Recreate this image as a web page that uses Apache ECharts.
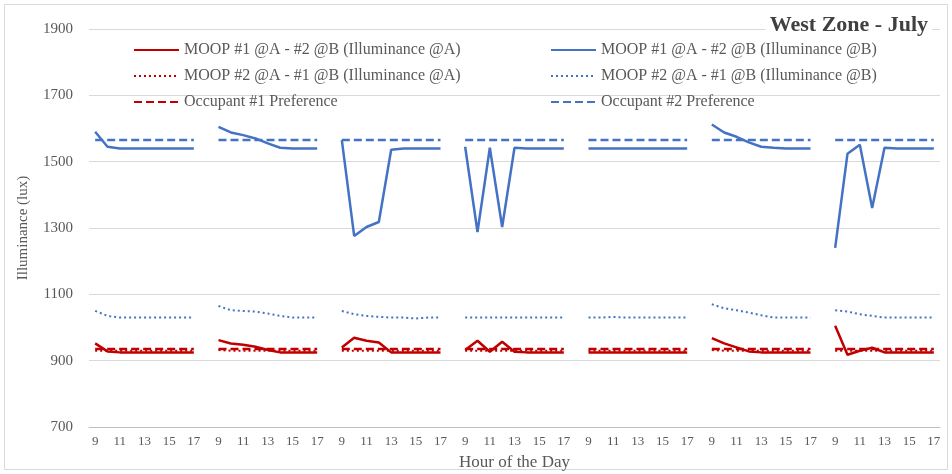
<!DOCTYPE html>
<html>
<head>
<meta charset="utf-8">
<script src="https://cdn.jsdelivr.net/npm/echarts@6/dist/echarts.min.js"></script>
<style>
  html, body { margin: 0; padding: 0; background: #fff; }
  #chart { width: 952px; height: 474px; }
</style>
</head>
<body>
<div id="chart"></div>
<script>
// hours of each day, 7 days shown side by side
const hours = [9, 10, 11, 12, 13, 14, 15, 16, 17];

// MOOP #1 @A - #2 @B, illuminance at A (red solid)
const moop1A = [
  [952, 928, 925, 925, 925, 925, 925, 925, 925],
  [962, 952, 948, 942, 932, 925, 925, 925, 925],
  [940, 969, 960, 955, 925, 925, 925, 925, 925],
  [932, 960, 927, 957, 927, 925, 925, 925, 925],
  [925, 925, 925, 925, 925, 925, 925, 925, 925],
  [968, 952, 940, 928, 925, 925, 925, 925, 925],
  [1005, 918, 930, 939, 925, 925, 925, 925, 925]
];
// MOOP #1 @A - #2 @B, illuminance at B (blue solid)
const moop1B = [
  [1590, 1545, 1540, 1540, 1540, 1540, 1540, 1540, 1540],
  [1605, 1588, 1580, 1570, 1555, 1542, 1540, 1540, 1540],
  [1565, 1276, 1303, 1318, 1536, 1540, 1540, 1540, 1540],
  [1545, 1288, 1542, 1303, 1542, 1540, 1540, 1540, 1540],
  [1540, 1540, 1540, 1540, 1540, 1540, 1540, 1540, 1540],
  [1612, 1588, 1575, 1558, 1545, 1542, 1540, 1540, 1540],
  [1240, 1524, 1551, 1360, 1542, 1540, 1540, 1540, 1540]
];
// MOOP #2 @A - #1 @B, illuminance at A (red dotted, mostly hidden under the others)
const moop2A = [
  [930, 930, 930, 930, 930, 930, 930, 930, 930],
  [932, 930, 930, 930, 930, 930, 930, 930, 930],
  [930, 930, 930, 930, 930, 930, 930, 930, 930],
  [930, 930, 930, 930, 930, 930, 930, 930, 930],
  [930, 930, 930, 930, 930, 930, 930, 930, 930],
  [932, 930, 930, 930, 930, 930, 930, 930, 930],
  [930, 930, 930, 930, 930, 930, 930, 930, 930]
];
// MOOP #2 @A - #1 @B, illuminance at B (blue dotted)
const moop2B = [
  [1050, 1035, 1030, 1030, 1030, 1030, 1030, 1030, 1030],
  [1065, 1052, 1050, 1048, 1042, 1035, 1030, 1030, 1030],
  [1050, 1040, 1035, 1032, 1030, 1030, 1027, 1030, 1030],
  [1030, 1030, 1030, 1030, 1030, 1030, 1030, 1030, 1030],
  [1030, 1030, 1032, 1030, 1030, 1030, 1030, 1030, 1030],
  [1070, 1058, 1052, 1045, 1037, 1030, 1030, 1030, 1030],
  [1052, 1048, 1040, 1035, 1030, 1030, 1030, 1030, 1030]
];
// preferences
const occ1 = [935, 935, 935, 935, 935, 935, 935, 935, 935];
const occ2 = [1565, 1565, 1565, 1565, 1565, 1565, 1565, 1565, 1565];
const dayCount = 7;

const names = [
  'MOOP #1 @A - #2 @B (Illuminance @A)',
  'MOOP #1 @A - #2 @B (Illuminance @B)',
  'MOOP #2 @A - #1 @B (Illuminance @A)',
  'MOOP #2 @A - #1 @B (Illuminance @B)',
  'Occupant #1 Preference',
  'Occupant #2 Preference'
];

// x categories: hours of each day with an empty slot between days
const xData = [];
for (let d = 0; d < dayCount; d++) {
  hours.forEach(h => xData.push(String(h)));
  if (d < dayCount - 1) xData.push('');
}

// flatten per-day values, null in the gaps
function flat(groups) {
  const out = [];
  groups.forEach((g, d) => {
    g.forEach(v => out.push(v));
    if (d < groups.length - 1) out.push(null);
  });
  return out;
}
function repeat(day) {
  const arr = [];
  for (let d = 0; d < dayCount; d++) arr.push(day);
  return arr;
}

const RED = '#C00000';
const BLUE = '#4472C4';
const FONT = 'Liberation Serif';

function line(name, data, color, type, width) {
  return {
    name: name,
    type: 'line',
    data: data,
    symbol: 'none',
    connectNulls: false,
    animation: false,
    lineStyle: { color: color, type: type, width: width },
    itemStyle: { color: color }
  };
}

const legendBase = {
  orient: 'vertical',
  top: 37,
  itemWidth: 45,
  itemHeight: 12,
  itemGap: 10,
  itemStyle: { opacity: 0, borderWidth: 0 },
  textStyle: { fontFamily: FONT, fontSize: 16, color: '#595959' }
};

const chart = echarts.init(document.getElementById('chart'));
const option = {
  backgroundColor: '#fff',
  textStyle: { fontFamily: FONT },
  title: {
    text: 'West Zone - July',
    right: 20,
    top: 12,
    backgroundColor: '#fff',
    padding: [2, 4],
    textStyle: { fontFamily: FONT, fontSize: 22, fontWeight: 'bold', color: '#404040' }
  },
  graphic: [{
    type: 'rect',
    shape: { x: 4.5, y: 4.5, width: 943, height: 465 },
    style: { fill: 'none', stroke: '#D9D9D9', lineWidth: 1 },
    silent: true
  }],
  legend: [
    Object.assign({}, legendBase, { data: [names[0], names[2], names[4]], left: 128 }),
    Object.assign({}, legendBase, { data: [names[1], names[3], names[5]], left: 545 })
  ],
  grid: { left: 89, right: 12, top: 29, bottom: 47, outerBoundsMode: 'none' },
  xAxis: {
    type: 'category',
    data: xData,
    boundaryGap: true,
    name: 'Hour of the Day',
    nameLocation: 'middle',
    nameGap: 27,
    nameTextStyle: { fontFamily: FONT, fontSize: 17, color: '#595959' },
    axisLine: { lineStyle: { color: '#BFBFBF' } },
    axisTick: { show: false },
    axisLabel: { interval: 1, margin: 8, fontFamily: FONT, fontSize: 13, color: '#595959' }
  },
  yAxis: {
    type: 'value',
    min: 700,
    max: 1900,
    interval: 200,
    name: 'Illuminance (lux)',
    nameLocation: 'middle',
    nameGap: 58,
    nameTextStyle: { fontFamily: FONT, fontSize: 15, color: '#595959' },
    axisLine: { show: false },
    axisTick: { show: false },
    axisLabel: {
      margin: 16, fontFamily: FONT, fontSize: 15, color: '#595959',
      formatter: v => String(v)
    },
    splitLine: { lineStyle: { color: '#D9D9D9', width: 1 } }
  },
  series: [
    line(names[0], flat(moop1A), RED, 'solid', 2.5),
    line(names[1], flat(moop1B), BLUE, 'solid', 2.5),
    line(names[2], flat(moop2A), RED, [2, 3], 2),
    line(names[3], flat(moop2B), BLUE, [2, 3], 2),
    line(names[4], flat(repeat(occ1)), RED, [8, 4], 2.5),
    line(names[5], flat(repeat(occ2)), BLUE, [8, 4], 2.5)
  ]
};
option && chart.setOption(option);
</script>
</body>
</html>
